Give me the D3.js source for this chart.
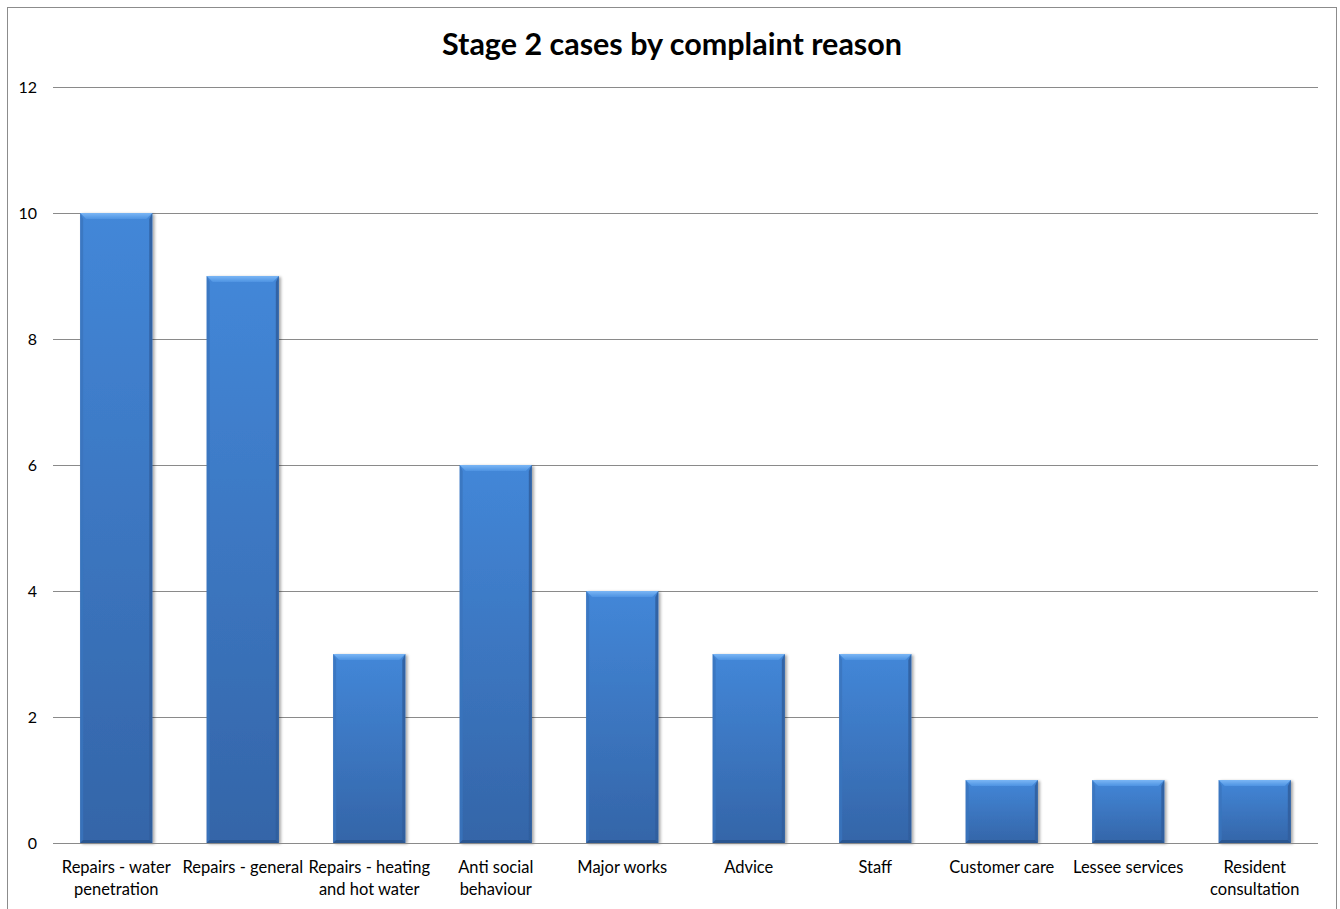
<!DOCTYPE html>
<html>
<head>
<meta charset="utf-8">
<script src="https://cdn.jsdelivr.net/npm/d3@7/dist/d3.min.js"></script>
<style>
  html, body { margin: 0; padding: 0; background: #fff; }
  svg { display: block; }
  text { font-family: Lato, "Open Sans", sans-serif; fill: #000; }
</style>
</head>
<body>
<svg id="chart" width="1340" height="909"></svg>
<script>
// Stage 2 complaint cases, by reason
const categories = [
  ["Repairs - water", "penetration"],
  ["Repairs - general"],
  ["Repairs - heating", "and hot water"],
  ["Anti social", "behaviour"],
  ["Major works"],
  ["Advice"],
  ["Staff"],
  ["Customer care"],
  ["Lessee services"],
  ["Resident", "consultation"]
];
const caseCounts = [10, 9, 3, 6, 4, 3, 3, 1, 1, 1];
const yTicks = [0, 2, 4, 6, 8, 10, 12];
const chartTitle = "Stage 2 cases by complaint reason";

const svg = d3.select("#chart");
const plot = { left: 53, right: 1318, top: 87, bottom: 843 };

// chart frame
svg.append("rect")
  .attr("x", 7.5).attr("y", 7.5)
  .attr("width", 1329).attr("height", 910)
  .attr("fill", "#fff").attr("stroke", "#8c8c8c").attr("stroke-width", 1);

const keys = categories.map((c, i) => i);
const x = d3.scaleBand().domain(keys).range([plot.left, plot.right])
  .paddingInner(0.43).paddingOuter(0.215);
const y = d3.scaleLinear().domain([0, 12]).range([plot.bottom, plot.top]);

// gridlines
svg.append("g")
  .selectAll("line").data(yTicks.filter(t => t > 0)).join("line")
  .attr("x1", plot.left).attr("x2", plot.right)
  .attr("y1", d => Math.round(y(d)) + 0.5).attr("y2", d => Math.round(y(d)) + 0.5)
  .attr("stroke", "#8a8a8a").attr("stroke-width", 1);

// y axis labels
const yAxis = d3.axisLeft(y).tickValues(yTicks).tickSize(0).tickPadding(0);
const yg = svg.append("g").attr("transform", `translate(${plot.left - 16},0)`).call(yAxis);
yg.select(".domain").remove();
yg.selectAll("text").attr("font-size", 16).attr("fill", "#000")
  .style("font-family", "Lato, 'Open Sans', sans-serif");

// bar gradients
const defs = svg.append("defs");
const body = defs.append("linearGradient").attr("id", "barBody")
  .attr("x1", 0).attr("y1", 0).attr("x2", 0).attr("y2", 1);
body.append("stop").attr("offset", "0%").attr("stop-color", "#4387d8");
body.append("stop").attr("offset", "100%").attr("stop-color", "#3465a8");

const bevelGrad = defs.append("linearGradient").attr("id", "bevelTop")
  .attr("x1", 0).attr("y1", 0).attr("x2", 0).attr("y2", 1);
bevelGrad.append("stop").attr("offset", "0%").attr("stop-color", "#7ab6f5");
bevelGrad.append("stop").attr("offset", "100%").attr("stop-color", "#4e93e2");

const shadow = defs.append("filter").attr("id", "barShadow")
  .attr("x", "-10%").attr("y", "-10%").attr("width", "130%").attr("height", "120%");
shadow.append("feGaussianBlur").attr("in", "SourceAlpha").attr("stdDeviation", 1.5).attr("result", "b");
shadow.append("feOffset").attr("in", "b").attr("dx", 1.5).attr("dy", 0.5).attr("result", "o");
shadow.append("feComponentTransfer").attr("in", "o").attr("result", "s")
  .append("feFuncA").attr("type", "linear").attr("slope", 0.35);
const m = shadow.append("feMerge");
m.append("feMergeNode").attr("in", "s");
m.append("feMergeNode").attr("in", "SourceGraphic");

const bev = 6;
const bars = svg.append("g").selectAll("g").data(caseCounts).join("g")
  .attr("filter", "url(#barShadow)");

bars.append("rect")
  .attr("x", (d, i) => x(i)).attr("y", d => y(d))
  .attr("width", x.bandwidth()).attr("height", d => y(0) - y(d))
  .attr("fill", "url(#barBody)");

// top bevel
bars.append("path")
  .attr("d", (d, i) => {
    const x0 = x(i), x1 = x(i) + x.bandwidth(), t = y(d);
    return `M${x0},${t}L${x1},${t}L${x1 - bev},${t + bev}L${x0 + bev},${t + bev}Z`;
  })
  .attr("fill", "url(#bevelTop)");
// left edge
bars.append("path")
  .attr("d", (d, i) => {
    const x0 = x(i), t = y(d), b = y(0);
    return `M${x0},${t}L${x0 + 3},${t + bev}L${x0 + 3},${b - 3}L${x0},${b}Z`;
  })
  .attr("fill", "#3a74bd").attr("opacity", 0.8);
// right edge
bars.append("path")
  .attr("d", (d, i) => {
    const x1 = x(i) + x.bandwidth(), t = y(d), b = y(0);
    return `M${x1},${t}L${x1 - 3},${t + bev}L${x1 - 3},${b - 3}L${x1},${b}Z`;
  })
  .attr("fill", "#2f5e9c").attr("opacity", 0.85);
// bottom edge
bars.append("path")
  .attr("d", (d, i) => {
    const x0 = x(i), x1 = x(i) + x.bandwidth(), b = y(0);
    return `M${x0},${b}L${x0 + 3},${b - 3}L${x1 - 3},${b - 3}L${x1},${b}Z`;
  })
  .attr("fill", "#2b5690");

// baseline
svg.append("line")
  .attr("x1", plot.left).attr("x2", plot.right)
  .attr("y1", Math.round(y(0)) + 0.5).attr("y2", Math.round(y(0)) + 0.5)
  .attr("stroke", "#8a8a8a");

// category labels
const xl = svg.append("g").selectAll("text").data(categories).join("text")
  .attr("text-anchor", "middle").attr("font-size", 16.5)
  .attr("x", (d, i) => x(i) + x.bandwidth() / 2)
  .attr("y", 873);
xl.selectAll("tspan").data(d => d).join("tspan")
  .attr("x", function () { return d3.select(this.parentNode).attr("x"); })
  .attr("dy", (d, j) => j === 0 ? 0 : 22)
  .text(d => d);

// title
svg.append("text")
  .attr("x", 672).attr("y", 55)
  .attr("text-anchor", "middle")
  .attr("font-size", 30.5).attr("font-weight", "bold")
  .text(chartTitle);
</script>
</body>
</html>
